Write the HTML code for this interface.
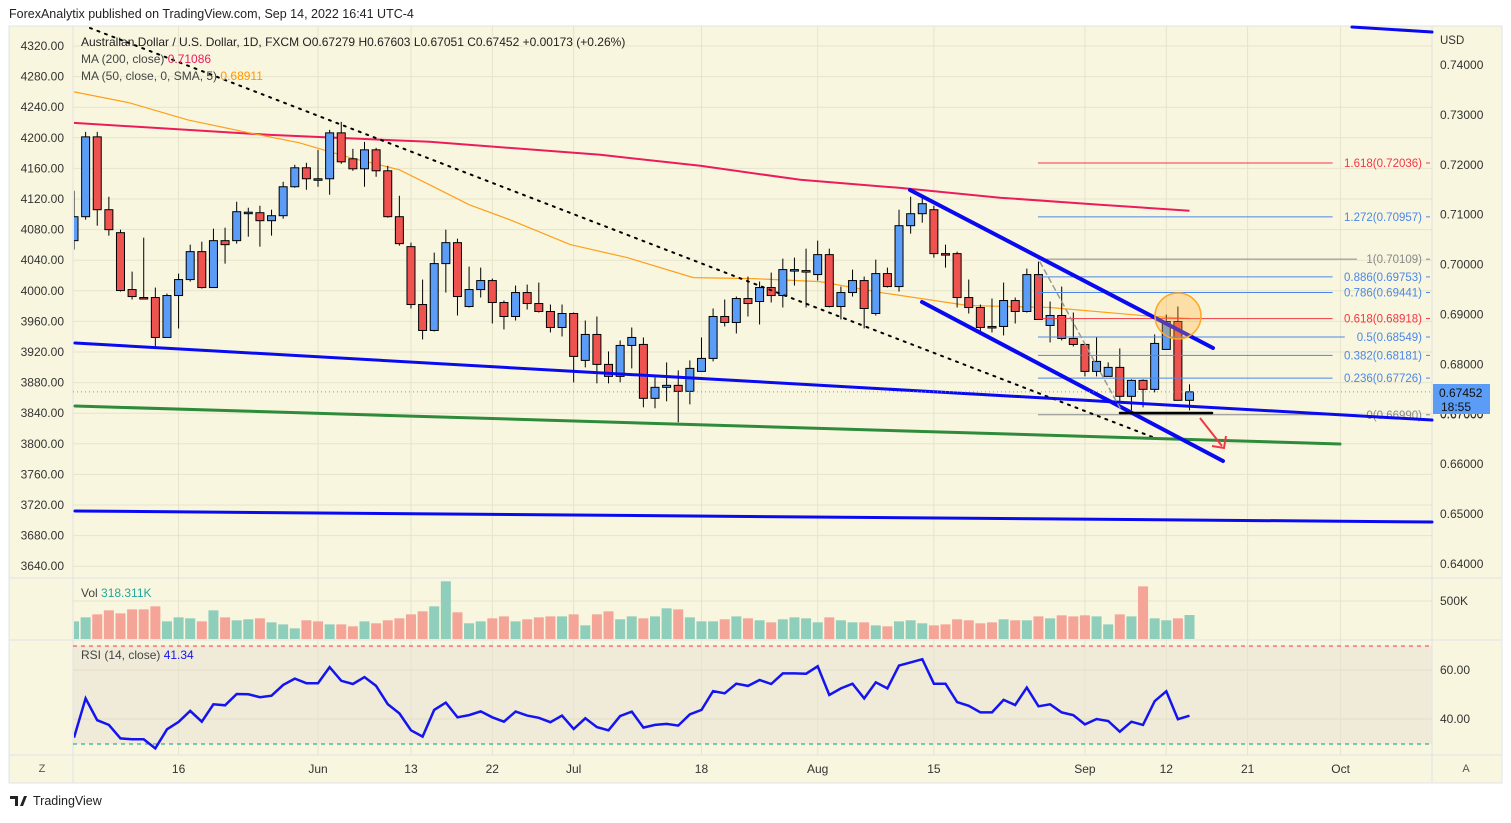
<!DOCTYPE html>
<html><head><meta charset="utf-8"><style>
body{margin:0;background:#fff;width:1511px;height:818px;overflow:hidden;font-family:"Liberation Sans",sans-serif}
svg text{font-family:"Liberation Sans",sans-serif}
</style></head><body>
<svg id="c" width="1511" height="818" xmlns="http://www.w3.org/2000/svg"><defs><clipPath id="pane"><rect x="74" y="26" width="1358" height="729"/></clipPath></defs></svg>
<script>
const opens=[.7048,.7096,.7256,.7110,.7064,.6950,.6934,.6934,.6854,.6938,.6970,.7026,.6954,.7048,.7048,.7104,.7104,.7088,.7098,.7156,.7194,.7172,.7172,.7264,.7212,.7192,.7230,.7188,.7096,.7036,.6920,.6868,.7002,.7044,.6916,.6950,.6968,.6924,.6896,.6944,.6922,.6906,.6874,.6902,.6808,.6860,.6800,.6776,.6838,.6840,.6732,.6754,.6758,.6746,.6786,.6812,.6896,.6884,.6932,.6926,.6954,.6938,.6988,.6986,.6980,.7020,.6916,.6944,.6968,.6902,.6982,.6956,.7078,.7102,.7110,.7022,.7022,.6934,.6914,.6876,.6876,.6928,.6906,.6980,.6878,.6898,.6852,.6840,.6786,.6776,.6794,.6736,.6768,.6750,.6830,.6886,.6728];
const highs=[.7148,.7266,.7266,.7136,.7070,.6986,.7054,.6954,.6942,.6982,.7040,.7046,.7072,.7074,.7126,.7114,.7118,.7110,.7166,.7200,.7204,.7230,.7270,.7286,.7232,.7246,.7234,.7198,.7138,.7044,.6970,.7024,.7070,.7052,.6996,.6994,.6972,.6928,.6958,.6960,.6964,.6920,.6920,.6904,.6888,.6896,.6826,.6848,.6874,.6854,.6774,.6804,.6788,.6808,.6854,.6912,.6930,.6936,.6976,.6966,.6984,.7012,.7014,.7032,.7048,.7032,.6956,.6990,.6976,.7010,.6994,.7110,.7136,.7136,.7118,.7040,.7026,.6970,.6920,.6932,.6964,.6934,.6992,.7006,.6926,.6956,.6904,.6842,.6854,.6804,.6832,.6770,.6770,.6860,.6900,.6916,.6760];
const lows=[.7030,.7090,.7078,.7058,.6946,.6930,.6930,.6832,.6854,.6872,.6966,.6952,.6954,.7002,.7042,.7056,.7036,.7058,.7092,.7154,.7150,.7156,.7140,.7202,.7188,.7156,.7176,.7094,.7038,.6912,.6850,.6866,.6944,.6898,.6914,.6934,.6882,.6870,.6888,.6910,.6904,.6864,.6856,.6764,.6794,.6762,.6762,.6764,.6792,.6714,.6712,.6726,.6684,.6720,.6786,.6806,.6876,.6862,.6896,.6880,.6924,.6914,.6958,.6914,.6968,.6914,.6890,.6936,.6872,.6898,.6954,.6946,.7062,.7084,.7014,.6994,.6914,.6902,.6866,.6864,.6858,.6882,.6904,.6890,.6844,.6848,.6836,.6776,.6776,.6776,.6726,.6708,.6714,.6744,.6830,.6728,.6708];
const closes=[.7096,.7256,.7110,.7070,.6948,.6936,.6933,.6854,.6938,.6970,.7026,.6954,.7048,.7040,.7106,.7105,.7088,.7098,.7156,.7194,.7172,.7170,.7264,.7206,.7192,.7230,.7188,.7096,.7042,.6920,.6868,.7002,.7044,.6936,.6950,.6968,.6924,.6896,.6944,.6922,.6906,.6874,.6902,.6816,.6860,.6800,.6776,.6838,.6854,.6732,.6754,.6758,.6746,.6792,.6812,.6896,.6884,.6932,.6922,.6954,.6938,.6990,.6990,.6988,.7020,.6916,.6944,.6968,.6912,.6982,.6956,.7078,.7102,.7122,.7022,.7021,.6934,.6914,.6874,.6875,.6928,.6906,.6980,.6890,.6898,.6852,.6840,.6786,.6806,.6794,.6736,.6768,.6750,.6842,.6886,.6728,.6745];
const volumes=[234,287,327,380,340,393,393,433,234,287,274,234,380,287,248,261,274,221,194,141,248,234,194,194,168,234,208,248,274,327,367,433,765,354,208,234,274,300,234,261,287,300,300,327,181,327,367,261,300,274,300,407,393,287,234,234,261,300,274,248,221,261,287,274,221,287,248,221,221,181,168,234,248,208,181,194,261,248,208,221,261,248,248,300,274,314,300,314,300,194,327,300,698,274,248,274,318];
const rsi=[32.4,48.4,39.5,37.6,32.1,31.7,31.7,28.0,35.8,38.8,43.3,38.9,46.0,45.6,50.2,50.1,48.9,49.5,53.9,56.5,54.6,54.6,61.2,55.6,54.3,57.1,53.5,46.1,42.3,35.4,32.8,43.7,46.7,40.7,41.6,43.1,40.7,38.9,43.0,41.4,40.5,38.7,41.4,35.9,40.3,36.7,35.4,41.2,43.0,36.5,37.6,38.0,37.3,41.9,43.7,51.4,50.5,54.4,53.5,55.9,54.3,58.6,58.6,58.5,61.5,49.8,52.5,54.4,48.4,55.0,52.5,61.8,63.1,64.4,54.4,54.4,46.9,45.4,42.7,42.7,47.8,45.7,52.8,45.2,46.0,42.7,41.6,37.8,40.0,39.2,34.8,38.9,37.6,47.3,51.3,39.9,41.34];
const ma200=[[0,.7284],[16.9,.7260],[30.6,.7246],[45.3,.7220],[53.9,.7198],[62.5,.7170],[71,.7154],[79.7,.7134],[88.3,.7120],[96,.7108]];
const ma50=[[0,.7346],[4.8,.7324],[9.8,.7290],[15.1,.7264],[19.4,.7244],[23.8,.7214],[28,.7190],[30.6,.7160],[34,.7120],[37.5,.7090],[42.7,.7040],[47.6,.7014],[53.3,.6974],[58.4,.6972],[64.2,.6966],[69.4,.6944],[76.9,.6918],[84,.6914],[92.9,.6896],[96,.6892]];
const fibLevels=["1.618","1.272","1","0.886","0.786","0.618","0.5","0.382","0.236","0"];
const fibPrices=[.72036,.70957,.70109,.69753,.69441,.68918,.68549,.68181,.67726,.66990];
const priceTicks=[.74,.73,.72,.71,.70,.69,.68,.67,.66,.65,.64];
const leftTicks=[4320,4280,4240,4200,4160,4120,4080,4040,4000,3960,3920,3880,3840,3800,3760,3720,3680,3640];
const dateLabels=["16","Jun","13","22","Jul","18","Aug","15","Sep","12","21","Oct"];
const dateIdx=[9,21,29,36,43,54,64,74,87,94,101,109];

const NS="http://www.w3.org/2000/svg",svg=document.getElementById('c');
function el(t,a,p){const e=document.createElementNS(NS,t);for(const k in a)e.setAttribute(k,a[k]);(p||svg).appendChild(e);return e;}
function tx(s,a,p){const e=el('text',a,p);e.textContent=s;return e;}
const xS=i=>74+11.62*i;
const yP=p=>65+(0.74-p)*4990;
const yV=v=>639-v*0.0754;
const yR=r=>670+(60-r)*2.45;
const L=73,R=1432;

let e=el('rect',{x:9,y:26,width:1493,height:757,fill:'#f9f6df',stroke:'#e0e3eb'});

e=el('rect',{x:L,y:646,width:R-L,height:98,fill:'#efebd8'});

for(const v of leftTicks){const y=46+(4320-v)/40*30.6;el('line',{x1:L,y1:y,x2:R,y2:y,stroke:'#e6e3cc','stroke-width':1});}
[601].forEach(y=>el('line',{x1:L,y1:y,x2:R,y2:y,stroke:'#e6e3cc'}));
[670,719].forEach(y=>el('line',{x1:L,y1:y,x2:R,y2:y,stroke:'#e0dcc6'}));
dateIdx.forEach(i=>el('line',{x1:xS(i),y1:26,x2:xS(i),y2:755,stroke:'#e6e3cc'}));
[578,640].forEach(y=>el('line',{x1:9,y1:y,x2:1502,y2:y,stroke:'#dfe2ea'}));
el('line',{x1:L,y1:26,x2:L,y2:783,stroke:'#dfe2ea'});
el('line',{x1:R,y1:26,x2:R,y2:783,stroke:'#dfe2ea'});
el('line',{x1:9,y1:755,x2:1502,y2:755,stroke:'#dfe2ea'});
el('line',{x1:L,y1:646,x2:R,y2:646,stroke:'#f23645','stroke-dasharray':'4,4'});
el('line',{x1:L,y1:744,x2:R,y2:744,stroke:'#089981','stroke-dasharray':'4,4'});

const P=el('g',{'clip-path':'url(#pane)'});
function maPath(arr,col,name){const p=el('path',{d:arr.map((d,k)=>(k?'L':'M')+xS(d[0]).toFixed(1)+','+yP(d[1]).toFixed(1)).join(' '),fill:'none',stroke:col,'stroke-width':name==='ma200-line'?2:1.2},P);
}
maPath(ma200,'#ec1c5c','ma200-line');
maPath(ma50,'#ff9f1a','ma50-line');

const fibCol=['#f23645','#4a87e8','#888','#4a87e8','#4a87e8','#f23645','#4a87e8','#4a87e8','#4a87e8','#888'];
fibLevels.forEach((lv,k)=>{const y=yP(fibPrices[k]);const lab=lv+'('+fibPrices[k].toFixed(5)+')';
const w=lab.length*6.1;
el('line',{x1:1038,y1:y,x2:1422-w-4,y2:y,stroke:fibCol[k],'stroke-width':1});
el('line',{x1:1426,y1:y,x2:1430,y2:y,stroke:fibCol[k]});
const t=tx(lab,{x:1422,y:y+4,'text-anchor':'end','font-size':11.5,fill:fibCol[k]});
});

volumes.forEach((v,i)=>{const up=closes[i]>=opens[i];const b=el('rect',{x:xS(i)-5,y:yV(v),width:10,height:639-yV(v),fill:up?'#8fcebb':'#f4a598'},P);
});

opens.forEach((o,i)=>{const c=closes[i],x=xS(i),up=c>=o;const g=el('g',{},P);

el('line',{x1:x,y1:yP(highs[i]),x2:x,y2:yP(lows[i]),stroke:'#000','stroke-width':1},g);
const t=Math.min(yP(o),yP(c)),h=Math.max(1.5,Math.abs(yP(o)-yP(c)));
el('rect',{x:x-4,y:t,width:8,height:h,fill:up?'#5b9cf6':'#ef5350',stroke:'#000','stroke-width':1},g);});

const dr=[[90,28,1155,438,'#000',2,'2,6','dotted-trendline'],[1352,27,1432,32,'#0a0af0',3,'','blue-trendline-top'],[75,343,1432,420,'#0a0af0',3,'','blue-support-line'],[75,406,1340,444,'#2e8b3a',3,'','green-trendline'],[75,511,1432,522,'#0a0af0',3,'','blue-bottom-line'],[910,190,1213,348,'#0a0af0',4,'','channel-upper'],[922,302,1223,461,'#0a0af0',4,'','channel-lower'],[1040,262,1120,408,'#999',1.5,'5,4','fib-diagonal'],[1120,413,1212,413,'#000',2.5,'','low-line']];
dr.forEach(d=>{const l=el('line',{x1:d[0],y1:d[1],x2:d[2],y2:d[3],stroke:d[4],'stroke-width':d[5],'stroke-dasharray':d[6],'stroke-linecap':'round'});
});
e=el('circle',{cx:1178,cy:316,r:23,fill:'rgba(255,170,40,0.3)',stroke:'#ffa726','stroke-width':1.5});

e=el('path',{d:'M1200,418 L1222,446 M1212,446 L1224,448 L1226,436',fill:'none',stroke:'#f23645','stroke-width':2});


e=el('path',{d:rsi.map((r,i)=>(i?'L':'M')+xS(i).toFixed(1)+','+yR(r).toFixed(1)).join(' '),fill:'none',stroke:'#1414f0','stroke-width':2.5},P);


const lastY=yP(closes[closes.length-1]);
el('line',{x1:L,y1:lastY,x2:R,y2:lastY,stroke:'#5b9cf6','stroke-dasharray':'1,3'});
tx('0.67000',{x:1440,y:418,'font-size':12,fill:'#333'});

tx('USD',{x:1440,y:44,'font-size':11.5,fill:'#333'});
priceTicks.forEach(p=>{const t=tx(p.toFixed(5),{x:1440,y:yP(p)+4,'font-size':12,fill:'#333'});});
e=el('rect',{x:1433,y:384,width:57,height:30,fill:'#5b9cf6'});

tx('0.67452',{x:1439,y:397,'font-size':12,fill:'#111'});
tx('18:55',{x:1441,y:411,'font-size':12,fill:'#111'});
tx('500K',{x:1440,y:605,'font-size':12,fill:'#333'});
tx('60.00',{x:1440,y:674,'font-size':12,fill:'#333'});
tx('40.00',{x:1440,y:723,'font-size':12,fill:'#333'});
leftTicks.forEach(v=>{const t=tx(v.toFixed(2),{x:64,y:46+(4320-v)/40*30.6+4,'text-anchor':'end','font-size':12,fill:'#333'});});
dateLabels.forEach((s,k)=>{const t=tx(s,{x:xS(dateIdx[k]),y:773,'text-anchor':'middle','font-size':12,fill:'#333'});});
e=tx('Z',{x:42,y:772,'text-anchor':'middle','font-size':11,fill:'#555'});
e=tx('A',{x:1466,y:772,'text-anchor':'middle','font-size':11,fill:'#555'});

e=tx('ForexAnalytix published on TradingView.com, Sep 14, 2022 16:41 UTC-4',{x:9,y:18,'font-size':12.5,fill:'#222'});

e=tx('Australian Dollar / U.S. Dollar, 1D, FXCM  O0.67279  H0.67603  L0.67051  C0.67452  +0.00173 (+0.26%)',{x:81,y:46,'font-size':12,fill:'#222','xml:space':'preserve'});

e=el('text',{x:81,y:63,'font-size':12,fill:'#444'});e.innerHTML='MA (200, close) <tspan fill="#ec1c5c">0.71086</tspan>';

e=el('text',{x:81,y:80,'font-size':12,fill:'#444'});e.innerHTML='MA (50, close, 0, SMA, 5) <tspan fill="#ff9800">0.68911</tspan>';

e=el('text',{x:81,y:597,'font-size':12,fill:'#444'});e.innerHTML='Vol  <tspan fill="#26a69a">318.311K</tspan>';

e=el('text',{x:81,y:659,'font-size':12,fill:'#444'});e.innerHTML='RSI (14, close)  <tspan fill="#1414f0">41.34</tspan>';

e=tx('TradingView',{x:33,y:805,'font-size':12.5,fill:'#222'});

el('path',{d:'M10,796 h8 v10 h-3 v-7 h-5z M20,806 l4,-10 h3 l-4,10z',fill:'#222'});
</script>
</body></html>
